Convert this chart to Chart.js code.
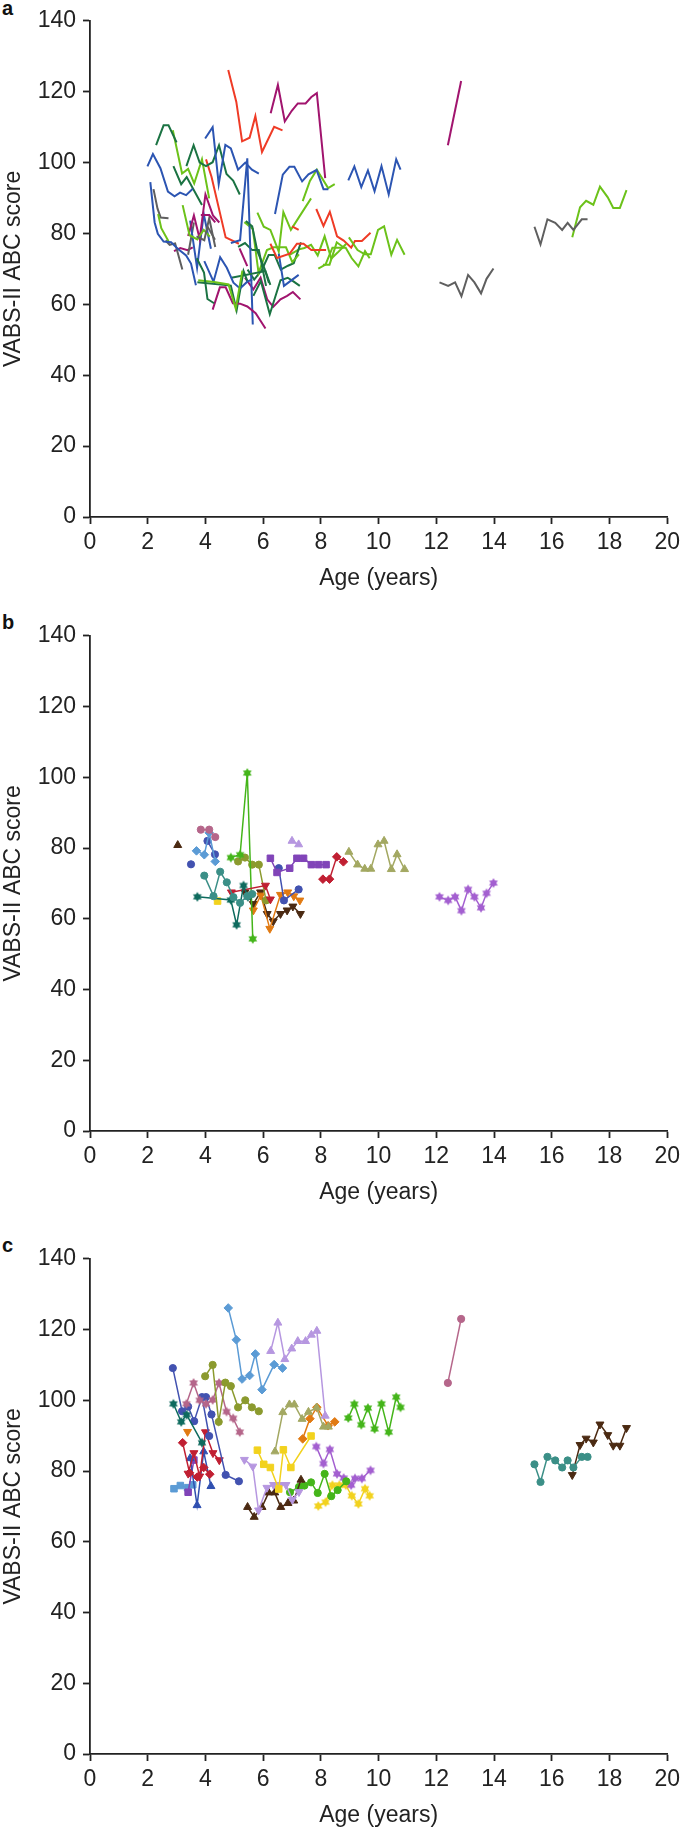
<!DOCTYPE html>
<html>
<head>
<meta charset="utf-8">
<script src="https://cdn.jsdelivr.net/npm/chart.js@4.4.1/dist/chart.umd.min.js"></script>
<style>
  html, body { margin: 0; padding: 0; background: #fff; }
  body { width: 685px; height: 1829px; position: relative; overflow: hidden; }
  canvas { position: absolute; left: 0; }
  .lbl { position: absolute; left: 2px; font: bold 20px "Liberation Sans", Arial, sans-serif; line-height: 20px; color: #111; }
</style>
</head>
<body>
<div class="lbl" style="top:-2px">a</div>
<div class="lbl" style="top:612px">b</div>
<div class="lbl" style="top:1235px">c</div>
<canvas id="chartA" width="685" height="592" style="top:0px"></canvas>
<canvas id="chartB" width="685" height="591" style="top:615px"></canvas>
<canvas id="chartC" width="685" height="591" style="top:1238px"></canvas>
<script>
// axis ticks
const xTicks = [0, 2, 4, 6, 8, 10, 12, 14, 16, 18, 20];
const yTicks = [0, 20, 40, 60, 80, 100, 120, 140];

// ---- panel b series: [age, score] ----
const bBrownTri = [[3.04, 80.8]];
const bPinkCirc = [[3.84, 85.2], [4.13, 85.2], [4.34, 83.1]];
const bBlueDiam = [[3.69, 79.2], [3.96, 78.1], [4.13, 84.3], [4.34, 76.2]];
const bIndigoSingle = [[3.50, 75.4]];
const bIndigoCirc1 = [[4.07, 82.0], [4.33, 78.2]];
const bTealCirc = [[3.96, 72.2], [4.28, 66.4], [4.51, 73.3], [4.74, 70.3], [4.97, 66.1], [5.20, 64.5], [5.45, 66.4], [5.62, 67.0]];
const bDkTealStar = [[3.72, 66.2], [4.88, 65.3], [5.08, 58.3], [5.32, 69.4], [5.47, 66.2]];
const bYellowSq = [[4.42, 65.0]];
const bRedInvTri = [[4.90, 67.5], [6.08, 69.4], [6.25, 65.5]];
const bGreenStar = [[4.88, 77.3], [5.20, 78.1], [5.45, 101.2], [5.64, 54.3]];
const bOliveCirc = [[5.13, 76.2], [5.37, 77.3], [5.62, 75.3], [5.85, 75.3], [6.10, 65.2]];
const bPurpleSq = [[6.25, 77.1], [6.48, 73.1], [6.92, 74.3], [7.17, 77.1], [7.40, 77.1], [7.67, 75.3], [7.92, 75.3], [8.18, 75.3]];
const bIndigoCirc2 = [[6.54, 74.3], [6.72, 65.2], [7.23, 68.3]];
const bLilacTri = [[7.00, 82.0], [7.23, 81.0]];
const bCrimsonDiam = [[8.07, 71.2], [8.30, 71.2], [8.55, 77.5], [8.78, 76.1]];
const bKhakiTri = [[8.97, 78.9], [9.27, 75.3], [9.52, 74.1], [9.73, 74.1], [9.98, 81.0], [10.19, 82.0], [10.44, 74.0], [10.64, 78.2], [10.90, 74.0]];
const bPurpleStar = [[12.11, 66.2], [12.41, 65.2], [12.65, 66.2], [12.87, 62.3], [13.10, 68.3], [13.32, 66.2], [13.55, 63.1], [13.74, 67.2], [13.98, 70.1]];
const bOrangeInvTri = [[5.66, 62.4], [5.92, 66.6], [6.23, 57.2], [6.60, 66.8], [6.85, 67.5], [7.06, 66.4], [7.27, 65.2]];
const bBrownInvTri = [[5.37, 67.5], [5.66, 64.2], [5.91, 67.5], [6.14, 61.4], [6.35, 59.3], [6.60, 61.4], [6.83, 62.4], [7.03, 63.5], [7.29, 61.4]];

// ---- panel c series ----
const cBlueDiam = [[4.79, 126.1], [5.07, 117.1], [5.27, 106.0], [5.53, 107.0], [5.73, 113.1], [5.96, 103.0], [6.38, 110.1], [6.67, 109.1]];
const cLilacTri = [[6.26, 113.9], [6.51, 121.9], [6.75, 111.6], [6.99, 114.6], [7.20, 116.7], [7.47, 116.7], [7.67, 118.5], [7.86, 119.6], [8.15, 95.6]];
const cOliveCirc = [[3.99, 106.8], [4.25, 110.0], [4.46, 93.9], [4.69, 105.0], [4.88, 104.0], [5.13, 98.0], [5.38, 100.0], [5.61, 98.0], [5.85, 96.9]];
const cPinkStar = [[3.34, 99.0], [3.59, 104.9], [3.80, 100.0], [4.02, 99.0], [4.25, 100.1], [4.47, 104.9], [4.73, 96.8], [4.96, 94.9], [5.19, 91.0]];
const cDkTealStar = [[2.89, 99.0], [3.16, 93.9], [3.35, 95.9], [3.88, 88.0]];
const cIndigoCirc1 = [[2.87, 109.1], [3.19, 96.9], [3.40, 98.2], [3.61, 94.1], [3.88, 100.9], [4.13, 89.9]];
const cIndigoCirc2 = [[4.02, 100.9], [4.21, 96.0], [4.70, 78.9], [5.16, 77.1]];
const cOrangeInvTri = [[3.38, 91.1]];
const cCrimsonDiam = [[3.21, 88.0], [3.45, 79.5], [3.72, 78.3], [3.94, 81.0], [4.15, 79.1]];
const cCrimsonInvTri = [[3.40, 79.3], [3.60, 85.1], [3.80, 78.5], [4.00, 91.0], [4.26, 85.1], [4.48, 83.1]];
const cBlueTri = [[3.47, 83.6], [3.71, 70.3], [3.94, 85.5], [4.19, 75.7]];
const cPurpleSq = [[3.40, 74.0], [3.60, 83.1]];
const cLtBlueSq = [[2.91, 75.0], [3.13, 75.9], [3.38, 75.3], [3.56, 76.1]];
const cYellowSq = [[5.80, 85.9], [6.02, 81.9], [6.25, 81.0], [6.54, 74.9], [6.70, 86.0], [6.96, 81.0], [7.66, 89.9]];
const cLilacInvTri = [[5.35, 83.2], [5.64, 81.3], [5.84, 68.9], [6.13, 75.3], [6.36, 76.1], [6.59, 76.1], [6.79, 76.1], [7.01, 71.9], [7.24, 74.1]];
const cBrownTri = [[5.46, 69.8], [5.69, 67.0], [5.96, 69.8], [6.19, 73.9], [6.40, 73.9], [6.61, 69.8], [6.86, 70.9], [7.06, 71.6], [7.31, 77.5]];
const cKhakiTri = [[6.41, 85.5], [6.68, 96.6], [6.91, 98.8], [7.08, 98.8], [7.35, 94.7], [7.57, 96.7], [7.85, 97.9], [8.09, 92.5], [8.26, 92.5]];
const cOrangeDiam = [[7.37, 89.1], [7.62, 94.8], [7.86, 98.0], [8.25, 92.8], [8.48, 93.9]];
const cGreenCirc = [[6.93, 74.0], [7.24, 75.5], [7.43, 75.9], [7.66, 76.8], [7.89, 73.8], [8.13, 79.2], [8.36, 72.9], [8.58, 74.6], [8.88, 77.1]];
const cPurpleStar = [[7.84, 86.9], [8.09, 82.1], [8.31, 86.1], [8.56, 79.2], [8.79, 78.0], [9.05, 76.0], [9.18, 77.9], [9.42, 77.9], [9.72, 80.2]];
const cYellowStar = [[7.91, 70.1], [8.16, 71.2], [8.40, 76.0], [8.64, 76.0], [8.86, 76.0], [9.07, 73.0], [9.30, 70.7], [9.53, 75.0], [9.69, 73.0]];
const cGreenStar = [[8.95, 95.0], [9.16, 98.9], [9.40, 93.1], [9.63, 97.8], [9.86, 91.9], [10.10, 99.0], [10.35, 91.0], [10.61, 100.9], [10.76, 98.0]];
const cPinkCirc = [[12.40, 104.9], [12.86, 123.0]];
const cTealCirc = [[15.40, 81.9], [15.61, 76.9], [15.85, 84.0], [16.12, 83.0], [16.36, 81.0], [16.55, 83.0], [16.75, 81.0], [17.04, 84.0], [17.24, 84.0]];
const cBrownInvTri = [[16.71, 78.9], [16.98, 87.4], [17.19, 89.2], [17.44, 88.1], [17.67, 93.2], [17.94, 90.2], [18.13, 87.2], [18.36, 87.2], [18.59, 92.2]];

// ---- extra trajectories only in panel a ----
const aBlue1 = [[1.99, 98.9], [2.18, 102.4], [2.44, 98.4], [2.70, 91.8], [2.93, 90.5], [3.12, 91.5], [3.33, 90.8], [3.56, 92.6]];
const aBlue2 = [[2.09, 94.5], [2.24, 83.1], [2.35, 79.9], [2.55, 77.7], [2.81, 77.5], [3.04, 75.7], [3.33, 73.8], [3.50, 71.5], [3.67, 65.4]];
const aDkGreen1 = [[2.29, 104.9], [2.55, 110.5], [2.72, 110.5], [3.00, 105.7]];
const aDkGreen2 = [[3.70, 73.0], [3.95, 69.0], [4.07, 61.5], [4.30, 60.3]];
const aDkGreen3 = [[5.40, 83.5], [5.62, 82.0], [5.80, 75.0], [6.05, 70.0], [6.20, 66.0]];
const aLtGreen1 = [[2.36, 85.5], [2.47, 81.5], [2.72, 77.8]];
const aLtGreen2 = [[3.75, 66.8], [4.30, 66.3], [4.80, 65.6], [5.05, 58.8], [5.28, 69.5]];
const aGray1 = [[2.20, 92.5], [2.34, 87.0], [2.45, 84.5], [2.72, 84.3]];
const aGray2 = [[2.62, 78.0], [2.76, 76.8], [2.95, 77.2], [3.20, 69.8]];
const aMagenta1 = [[4.25, 58.5], [4.50, 64.8], [4.70, 64.8], [4.95, 60.3], [5.20, 60.2], [5.45, 59.4], [5.74, 57.5], [6.08, 53.2]];
const aMagenta2 = [[5.18, 75.8], [5.45, 70.8]];

// colours
const A_BLUE = '#2c55b2', A_DKGREEN = '#1b7343', A_LTGREEN = '#6cc21a',
      A_RED = '#ef3b26', A_MAGENTA = '#a1146e', A_GRAY = '#5f5f5f';
const BROWN = '#4b2a12', PINK = '#b5668a', LTBLUE = '#5b9bd5', INDIGO = '#4252b0',
      TEAL = '#3b8f87', DKTEAL = '#0e6b5e', YELLOW = '#f2d21e', RED = '#c01f32',
      GREEN = '#44b51a', OLIVE = '#8b9a2e', PURPLE = '#8044b8', LILAC = '#b697e0',
      KHAKI = '#a3a862', ORANGE = '#e17a12', PURPLE2 = '#a35fd0', BLUE = '#2f4fb0';

// series tables: marker style for b/c, line colour used in panel a
const panelB = [
  [bBrownTri, BROWN, 'tri', null],
  [bPinkCirc, PINK, 'circle', A_MAGENTA],
  [bBlueDiam, LTBLUE, 'diam', A_GRAY],
  [bIndigoSingle, INDIGO, 'circle', null],
  [bIndigoCirc1, INDIGO, 'circle', A_GRAY],
  [bTealCirc, TEAL, 'circle', A_BLUE],
  [bDkTealStar, DKTEAL, 'star', A_DKGREEN],
  [bYellowSq, YELLOW, 'sq', null],
  [bRedInvTri, RED, 'invtri', A_DKGREEN],
  [bGreenStar, GREEN, 'star', A_BLUE],
  [bOliveCirc, OLIVE, 'circle', A_DKGREEN],
  [bPurpleSq, PURPLE, 'sq', A_RED],
  [bIndigoCirc2, INDIGO, 'circle', A_BLUE],
  [bLilacTri, LILAC, 'tri', A_RED],
  [bCrimsonDiam, RED, 'diam', A_LTGREEN],
  [bKhakiTri, KHAKI, 'tri', A_LTGREEN],
  [bPurpleStar, PURPLE2, 'star', A_GRAY],
  [bOrangeInvTri, ORANGE, 'invtri', A_DKGREEN],
  [bBrownInvTri, BROWN, 'invtri', A_MAGENTA]
];
const panelC = [
  [cBlueDiam, LTBLUE, 'diam', A_RED],
  [cLilacTri, LILAC, 'tri', A_MAGENTA],
  [cOliveCirc, OLIVE, 'circle', A_BLUE],
  [cPinkStar, PINK, 'star', A_DKGREEN],
  [cDkTealStar, DKTEAL, 'star', A_DKGREEN],
  [cIndigoCirc1, INDIGO, 'circle', A_LTGREEN],
  [cIndigoCirc2, INDIGO, 'circle', A_RED],
  [cOrangeInvTri, ORANGE, 'invtri', null],
  [cCrimsonDiam, RED, 'diam', A_LTGREEN],
  [cCrimsonInvTri, RED, 'invtri', A_MAGENTA],
  [cBlueTri, BLUE, 'tri', A_BLUE],
  [cPurpleSq, PURPLE, 'sq', A_GRAY],
  [cLtBlueSq, LTBLUE, 'sq', A_MAGENTA],
  [cYellowSq, YELLOW, 'sq', A_LTGREEN],
  [cLilacInvTri, LILAC, 'invtri', A_LTGREEN],
  [cBrownTri, BROWN, 'tri', A_DKGREEN],
  [cKhakiTri, KHAKI, 'tri', A_BLUE],
  [cOrangeDiam, ORANGE, 'diam', A_LTGREEN],
  [cGreenCirc, GREEN, 'circle', A_LTGREEN],
  [cPurpleStar, PURPLE2, 'star', A_RED],
  [cYellowStar, YELLOW, 'star', A_LTGREEN],
  [cGreenStar, GREEN, 'star', A_BLUE],
  [cPinkCirc, PINK, 'circle', A_MAGENTA],
  [cTealCirc, TEAL, 'circle', A_GRAY],
  [cBrownInvTri, BROWN, 'invtri', A_LTGREEN]
];
const panelAOnly = [
  [aBlue1, A_BLUE], [aBlue2, A_BLUE],
  [aDkGreen1, A_DKGREEN], [aDkGreen2, A_DKGREEN], [aDkGreen3, A_DKGREEN],
  [aLtGreen1, A_LTGREEN], [aLtGreen2, A_LTGREEN],
  [aGray1, A_GRAY], [aGray2, A_GRAY],
  [aMagenta1, A_MAGENTA], [aMagenta2, A_MAGENTA]
];

const toXY = pts => pts.map(p => ({ x: p[0], y: p[1] }));

// six-pointed filled star used as a marker
function starImage(color, r) {
  const c = document.createElement('canvas');
  const s = Math.ceil(r * 2 + 2);
  c.width = s; c.height = s;
  const g = c.getContext('2d');
  g.fillStyle = color;
  [0, Math.PI].forEach(off => {
    g.beginPath();
    for (let i = 0; i < 3; i++) {
      const a = off + i * 2 * Math.PI / 3;
      const x = s / 2 + Math.sin(a) * r, y = s / 2 - Math.cos(a) * r;
      if (i) g.lineTo(x, y); else g.moveTo(x, y);
    }
    g.closePath();
    g.fill();
  });
  return c;
}

function markerStyle(shape, color) {
  switch (shape) {
    case 'circle': return { pointStyle: 'circle', pointRadius: 3.6 };
    case 'tri': return { pointStyle: 'triangle', pointRadius: 4.6 };
    case 'invtri': return { pointStyle: 'triangle', pointRadius: 4.6, pointRotation: 180 };
    case 'diam': return { pointStyle: 'rectRot', pointRadius: 4.3 };
    case 'sq': return { pointStyle: 'rect', pointRadius: 4.6 };
    case 'star': return { pointStyle: starImage(color, 5), pointRadius: 5 };
  }
}

const markerDatasets = table => table.map(([pts, color, shape]) => ({
  data: toXY(pts),
  showLine: true,
  borderColor: color,
  borderWidth: 1.5,
  backgroundColor: color,
  pointBackgroundColor: color,
  pointBorderColor: color,
  pointBorderWidth: 1,
  ...markerStyle(shape, color)
}));

const lineDataset = (pts, color) => ({
  data: toXY(pts),
  showLine: true,
  borderColor: color,
  borderWidth: 2,
  pointRadius: 0
});

const panelADatasets = [
  ...panelAOnly.map(([pts, color]) => lineDataset(pts, color)),
  ...panelB.concat(panelC).filter(s => s[3]).map(([pts, , , aColor]) => lineDataset(pts, aColor))
];

const axisFont = { family: '"Liberation Sans", Arial, sans-serif', size: 23 };
const INK = '#222';

function makeChart(id, datasets, padTop) {
  return new Chart(document.getElementById(id), {
    type: 'scatter',
    data: { datasets },
    options: {
      responsive: false,
      animation: false,
      devicePixelRatio: 1,
      events: [],
      layout: { padding: { top: padTop, right: 14, left: 0, bottom: 0 } },
      plugins: { legend: { display: false }, tooltip: { enabled: false } },
      scales: {
        x: {
          type: 'linear', min: 0, max: 20,
          afterBuildTicks: s => { s.ticks = xTicks.map(v => ({ value: v })); },
          ticks: { color: INK, font: axisFont, padding: 5, maxRotation: 0, autoSkip: false },
          grid: { drawOnChartArea: false, tickLength: 7, tickColor: INK, tickWidth: 1.8 },
          border: { color: INK, width: 1.8 },
          title: { display: true, text: 'Age (years)', color: INK, font: axisFont, padding: { top: 0, bottom: 0 } },
          afterFit: s => { s.height = 75; }
        },
        y: {
          type: 'linear', min: 0, max: 140,
          afterBuildTicks: s => { s.ticks = yTicks.map(v => ({ value: v })); },
          ticks: { color: INK, font: axisFont, padding: 7 },
          grid: { drawOnChartArea: false, tickLength: 7, tickColor: INK, tickWidth: 1.8 },
          border: { color: INK, width: 1.8 },
          title: { display: true, text: 'VABS-II ABC score', color: INK, font: axisFont, padding: { top: 0, bottom: 0 } },
          afterFit: s => { s.width = 90; }
        }
      }
    }
  });
}

makeChart('chartA', panelADatasets, 17);
makeChart('chartB', markerDatasets(panelB), 16);
makeChart('chartC', markerDatasets(panelC), 16);
</script>
</body>
</html>
